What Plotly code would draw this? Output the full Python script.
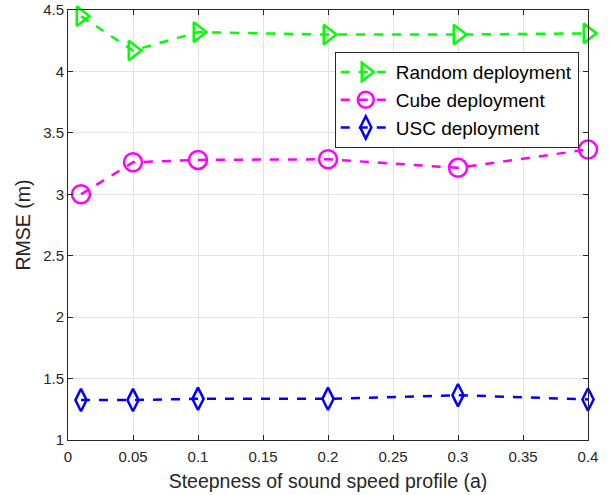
import plotly.graph_objects as go

x_vals = [0.01, 0.05, 0.1, 0.2, 0.3, 0.4]
random_rmse = [4.45, 4.17, 4.32, 4.30, 4.30, 4.31]
cube_rmse = [3.00, 3.26, 3.28, 3.285, 3.215, 3.365]
usc_rmse = [1.325, 1.325, 1.335, 1.335, 1.365, 1.33]
series_names = ["Random deployment", "Cube deployment", "USC deployment"]
x_ticks = [0, 0.05, 0.1, 0.15, 0.2, 0.25, 0.3, 0.35, 0.4]
x_tick_labels = ["0", "0.05", "0.1", "0.15", "0.2", "0.25", "0.3", "0.35", "0.4"]
y_ticks = [1, 1.5, 2, 2.5, 3, 3.5, 4, 4.5]
y_tick_labels = ["1", "1.5", "2", "2.5", "3", "3.5", "4", "4.5"]

FONT = "Liberation Sans, Arial, Helvetica, sans-serif"

fig = go.Figure()
styles = [
    (random_rmse, "#00FF00", "triangle-right-open", 17),
    (cube_rmse, "#FF00FF", "circle-open", 18),
    (usc_rmse, "#0000FF", "diamond-tall-open", 16),
]
for name, (vals, color, sym, size) in zip(series_names, styles):
    fig.add_trace(go.Scatter(
        x=x_vals, y=vals, name=name, mode="lines+markers",
        line=dict(color=color, width=2.5, dash="dash"),
        marker=dict(symbol=sym, size=size, color=color, line=dict(width=2.5, color=color)),
        cliponaxis=False,
    ))

axis_common = dict(
    showgrid=True, gridcolor="#E3E3E3", gridwidth=1,
    showline=True, linecolor="#262626", linewidth=1, mirror="ticks",
    ticks="inside", ticklen=5, tickcolor="#262626",
    tickfont=dict(family=FONT, size=15, color="#262626"),
    zeroline=False, automargin=False, ticklabeloverflow="allow",
)
fig.update_layout(
    width=610, height=495,
    margin=dict(l=68, r=22, t=10, b=55),
    paper_bgcolor="white", plot_bgcolor="white",
    xaxis=dict(range=[0, 0.4], tickvals=x_ticks, ticktext=x_tick_labels,
               ticklabelstandoff=3,
               title=dict(text="Steepness of sound speed profile (a)", standoff=10,
                          font=dict(family=FONT, size=19.5, color="#262626")),
               **axis_common),
    yaxis=dict(range=[1, 4.5], tickvals=y_ticks, ticktext=y_tick_labels,
               title=dict(text="RMSE (m)", standoff=7,
                          font=dict(family=FONT, size=19.5, color="#262626")),
               **axis_common),
    legend=dict(x=0.513, y=0.902, xanchor="left", yanchor="top",
                bgcolor="white", bordercolor="#262626", borderwidth=1,
                font=dict(family=FONT, size=19, color="black"),
                tracegroupgap=0, itemwidth=50),
    showlegend=True,
)
fig.write_html("out.html", config={"displayModeBar": False},
               post_script="document.body.style.margin='0';")
